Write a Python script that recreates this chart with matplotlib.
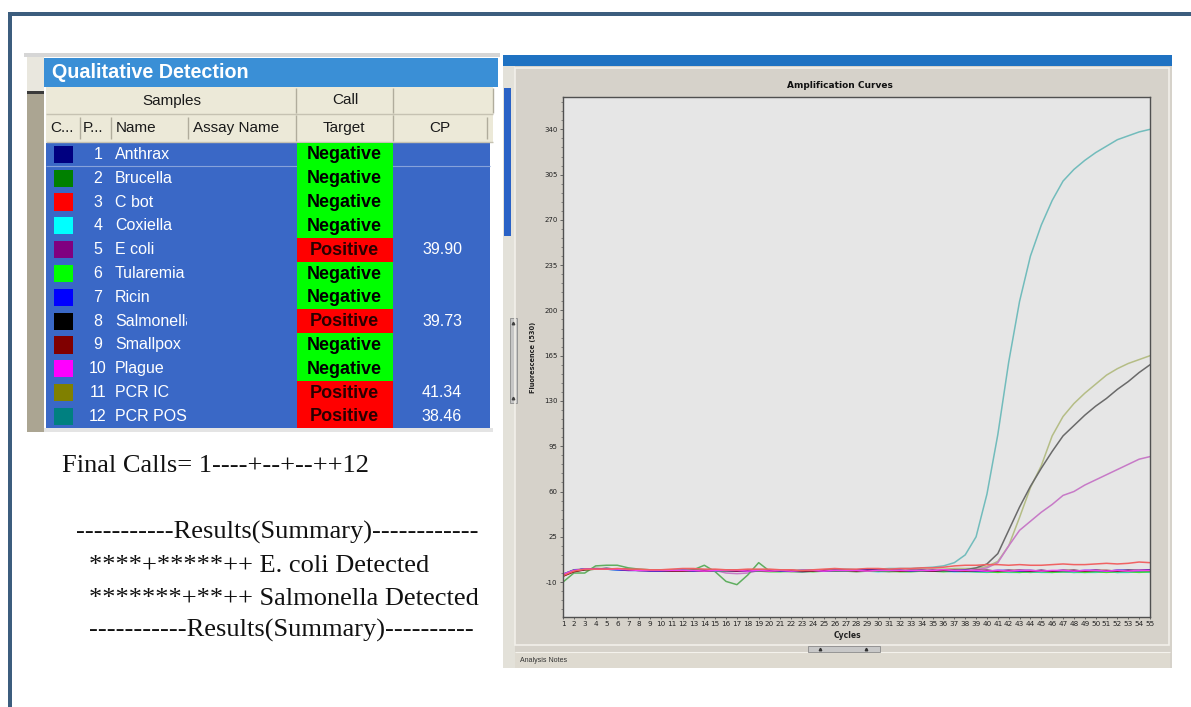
import matplotlib
matplotlib.use('Agg')
import matplotlib.pyplot as plt
from matplotlib.patches import Rectangle
from matplotlib.ticker import AutoMinorLocator

# ---------------- data ----------------
sample_ids = [1, 2, 3, 4, 5, 6, 7, 8, 9, 10, 11, 12]
sample_names = ['Anthrax', 'Brucella', 'C bot', 'Coxiella', 'E coli', 'Tularemia',
                'Ricin', 'Salmonella', 'Smallpox', 'Plague', 'PCR IC', 'PCR POS']
swatch_colors = ['#000080', '#008000', '#ff0000', '#00ffff', '#800080', '#00ff00',
                 '#0000ff', '#000000', '#800000', '#ff00ff', '#808000', '#008080']
line_colors = ['#1a1a86', '#5fae5f', '#f06262', '#3cd6e0', '#c77ac7', '#3ee03e',
               '#2424ee', '#6a6a6a', '#7a0a0a', '#f040f0', '#b5bd86', '#72bcbc']
calls = ['Negative', 'Negative', 'Negative', 'Negative', 'Positive', 'Negative',
         'Negative', 'Positive', 'Negative', 'Negative', 'Positive', 'Positive']
cp_values = ['', '', '', '', '39.90', '', '', '39.73', '', '', '41.34', '38.46']

cycles = list(range(1, 56))

fl_anthrax = [-4, -1, 0, 0, 0.5, 0, -0.5, -0.5, -1, -1.5, -1.5,
              -1, -1, -1, -1.5, -1, -1, -1.5, -1, -1.5, -1, -1.5,
              -2, -1.5, -1, -1.5, -1, -1, -0.5, -1, -1, -1, -1.5,
              -1.5, -1, -1.5, -1, -1, -1.5, -1, -1.5, -1.5, -1, -1,
              -1.5, -2, -1.5, -1, -1.5, -1, -1.5, -1, -1, -1.5, -1]
fl_brucella = [-10, -3, -3, 2.5, 3, 3, 1, 0, -0.5, -0.5, -1,
               -1, -0.5, 3, -2, -9.5, -12, -4.5, 5, -1.5, -1.5, -2,
               -2, -1.5, -1.5, -1, -1.5, -2, -1.5, -1.5, -2, -1.5, -1.5,
               -1, -1.5, -1.5, -1, -1.5, -1.5, -2, -2, -1.5, -2, -2.5,
               -2, -2, -2, -2.5, -2, -2, -2, -2.5, -2, -2, -2]
fl_cbot = [-5, -1.5, 0, 0, 0, 0.5, 0, 0, -0.5, -0.5, 0,
           0.5, 0.5, 0, 0, -0.5, -0.5, 0, 0, 0, -0.5, -0.5,
           -1, -0.5, 0, 0.5, 0, 0, 0.5, 0.5, 0, 0.5, 0.5,
           1, 1, 1.5, 2.5, 3, 3, 3.5, 3.5, 3, 3.5, 3,
           3, 3.5, 4, 3.5, 3.5, 4, 4.5, 4, 4.5, 5.5, 5]
fl_coxiella = [-4, -1, 0, 0, 0, -0.5, -0.5, -1, -1, -1, -1,
               -1, -1.5, -1, -1.5, -1.5, -1.5, -1, -1, -1.5, -1.5, -1.5,
               -1, -1.5, -1.5, -1, -1, -1.5, -1.5, -2, -1.5, -1.5, -1,
               -1, -1.5, -1.5, -2, -2, -2, -2.5, -2, -2.5, -2.5, -2,
               -2.5, -2.5, -2, -2.5, -2.5, -2.5, -2, -2.5, -2.5, -2, -2.5]
fl_ecoli = [-4.5, -1, 0, 0.5, 0, 0, -0.5, -1, -1, -1, -1.5,
            -1, -1, -0.5, -1, -3, -3.5, -3, -1, -1.5, -1.5, -1,
            -1.5, -1, -1, -1, -1.5, -1, -0.5, -1, -1, -1.5, -1.5,
            -1, -1, -1.5, -1, -1, -0.5, 1, 5, 18, 30, 37,
            44, 50, 57, 60, 65, 69, 73, 77, 81, 85, 87]
fl_tularemia = [-5, -1.5, -0.5, 0, 0, 0, -0.5, -0.5, -1, -1, -1,
                -1.5, -1, -1, -1, -1.5, -1, -1.5, -1.5, -2, -2, -1.5,
                -1.5, -2, -1.5, -1.5, -1, -1, -1.5, -1.5, -1.5, -2, -2,
                -1.5, -1.5, -2, -1.5, -1.5, -2, -2, -2.5, -2, -2.5, -2,
                -2, -2.5, -2, -2, -2.5, -2, -2.5, -2, -2, -2.5, -2]
fl_ricin = [-4.5, -1, 0, 0, 0, -0.5, -1, -1, -1.5, -1.5, -1,
            -1, -1.5, -1, -1, -1, -1.5, -1.5, -1, -1, -1.5, -1.5,
            -1, -1, -1.5, -1, -1, -0.5, -0.5, -1, -1, -1, -1.5,
            -1, -1.5, -1, -1.5, -1, -1.5, -1.5, -1, -1, -1.5, -1.5,
            -1, -1.5, -1, -1.5, -1, -1, -1.5, -1, -1, -1, -0.5]
fl_salmonella = [-4, -0.5, 0, 0, 0.5, 0, 0, -0.5, -1, -1, -1.5,
                 -1.5, -1, -1, -1, -1, -1, -1.5, -1, -1, -1.5, -1.5,
                 -1.5, -1, -1, -1.5, -0.5, -1, -1, -1.5, -1, -1.5, -1,
                 -1.5, -1, -1.5, -1, -0.5, 1, 4, 12, 30, 48, 64,
                 78, 91, 103, 111, 119, 126, 132, 139, 145, 152, 158]
fl_smallpox = [-5.5, -2, -0.5, 0, 0, 0, -0.5, -1, -1, -1, -1.5,
               -1.5, -1, -1.5, -1, -1, -1.5, -1, -1, -1.5, -1, -1,
               -1.5, -1.5, -1, -1, -1, -1.5, -1, -1, -1, -1.5, -1,
               -1, -1.5, -1, -1, -1.5, -1, -1, -1.5, -1, -1, -1.5,
               -1, -1.5, -1, -1, -1.5, -1, -1, -1.5, -1, -1, -1]
fl_plague = [-4, -1, 0, 0, 0, 0, -0.5, -1, -1, -1, -1,
             -1, -1, -1.5, -1, -1, -1, -1.5, -1, -1.5, -1, -1.5,
             -1, -1, -1.5, -1, -1, -1, -1.5, -1, -1, -1, -1,
             -1, -1, -0.5, -1, -1, -1, -1.5, -1, -1.5, -1, -1,
             -1.5, -1, -1, -1.5, -1, -1, -1.5, -1, -1.5, -1, -1]
fl_pcr_ic = [-4, -1, 0, 0.5, 0.5, 0, 0, -0.5, -1, -1, -1,
             -1, -1, -1, -0.5, -1, -1, -1, -1, -1.5, -1, -1.5,
             -1, -1, -1, -0.5, -1, -0.5, -0.5, -1, -0.5, -0.5, 0,
             0, 0, 0, 0.5, 0.5, 0.5, 2, 6, 18, 40, 63,
             80, 103, 118, 128, 136, 143, 150, 155, 159, 162, 165]
fl_pcr_pos = [-5, -1, 0, 0.5, 0, -0.5, 0, -0.5, -1, -1, -1.5,
              -1, -1, -0.5, -1, -1, -1.5, -1, -1, -1, -1.5, -1,
              -1, -1, -0.5, -0.5, 0, -0.5, 0, 0, 0.5, 0.5, 0.5,
              1, 1.5, 2.5, 5, 11, 25, 58, 104, 160, 207, 242,
              266, 285, 300, 309, 316, 322, 327, 332, 335, 338, 340]

fluorescence = [fl_anthrax, fl_brucella, fl_cbot, fl_coxiella, fl_ecoli, fl_tularemia,
                fl_ricin, fl_salmonella, fl_smallpox, fl_plague, fl_pcr_ic, fl_pcr_pos]

y_ticks = [-10, 25, 60, 95, 130, 165, 200, 235, 270, 305, 340]

summary_lines = ['Final Calls= 1----+--+--++12',
                 '-----------Results(Summary)------------',
                 '****+*****++ E. coli Detected',
                 '*******+**++ Salmonella Detected',
                 '-----------Results(Summary)----------']

# ---------------- figure ----------------
W, H = 1191, 707
fig = plt.figure(figsize=(W / 100, H / 100), dpi=100)
fig.patch.set_facecolor('white')
bg = fig.add_axes([0, 0, 1, 1])
bg.set_xlim(0, W)
bg.set_ylim(H, 0)
bg.axis('off')

UI = ['Liberation Sans', 'DejaVu Sans']


def rect(x0, y0, x1, y1, fc, ec='none', lw=0, z=1):
    bg.add_patch(Rectangle((x0, y0), x1 - x0, y1 - y0, facecolor=fc,
                           edgecolor=ec, linewidth=lw, zorder=z))


def vline(x, y0, y1, c='#b0ac9c', lw=1.0):
    bg.plot([x, x], [y0, y1], color=c, lw=lw, zorder=3, solid_capstyle='butt')


def hline(y, x0, x1, c='#b0ac9c', lw=1.0):
    bg.plot([x0, x1], [y, y], color=c, lw=lw, zorder=3, solid_capstyle='butt')


# outer frame
rect(8, 12, W, 16, '#3c5d7e')
rect(8, 12, 12, H, '#3c5d7e')

# ---- left table panel ----
rect(24, 53, 500, 57, '#d6d6d6')
rect(27, 57, 44, 432, '#aba592')
rect(27, 57, 44, 91, '#e9e7de')
rect(27, 91, 44, 93.5, '#3a3a3a')
rect(44, 58, 498, 86.5, '#3a8fd6')
bg.text(52, 72.5, 'Qualitative Detection', color='white', fontsize=14.2,
        fontweight='bold', va='center', ha='left', family=UI, zorder=4)

rect(46, 87, 493, 141.5, '#ece9d8')
hline(113.5, 46, 493, '#c6c2b2')
hline(141.5, 46, 493, '#c6c2b2')
for x in [296, 393]:
    vline(x, 88, 112.5)
vline(493, 88, 112.5)
for x in [79.5, 110.5, 188]:
    vline(x, 117, 139)
for x in [296, 393]:
    vline(x, 115, 140.5)
vline(487, 117, 139)

hdr = dict(fontsize=11, va='center', color='#1a1a1a', family=UI, zorder=4)
bg.text(171.5, 100.5, 'Samples', ha='center', **hdr)
bg.text(345, 100.5, 'Call', ha='center', **hdr)
bg.text(50.5, 128, 'C...', ha='left', **hdr)
bg.text(83, 128, 'P...', ha='left', **hdr)
bg.text(116, 128, 'Name', ha='left', **hdr)
bg.text(193, 128, 'Assay Name', ha='left', **hdr)
bg.text(344, 128, 'Target', ha='center', **hdr)
bg.text(440, 128, 'CP', ha='center', **hdr)

row_top, row_h = 142.5, 23.82
rect(46, row_top, 490, row_top + 12 * row_h, '#3a68c6')
rect(44, row_top + 12 * row_h, 493, row_top + 12 * row_h + 3.5, '#e4e4e4')
hline(row_top + row_h, 46, 490, '#86a2da', 0.8)

name_clip = Rectangle((110, row_top), 77, 12 * row_h, transform=bg.transData)
for i in range(len(sample_ids)):
    y0 = row_top + i * row_h
    yc = y0 + row_h / 2
    rect(53.5, yc - 8.6, 72.8, yc + 8.6, swatch_colors[i], z=3)
    bg.text(98, yc, str(sample_ids[i]), ha='center', va='center', color='white',
            fontsize=11.5, family=UI, zorder=4)
    t = bg.text(115, yc, sample_names[i], ha='left', va='center', color='white',
                fontsize=11.5, family=UI, zorder=4)
    t.set_clip_on(True)
    t.set_clip_path(name_clip)
    pos = calls[i] == 'Positive'
    rect(296.5, y0, 392.8, y0 + row_h, '#ff0000' if pos else '#00ff00', z=3)
    bg.text(344.6, yc + 0.5, calls[i], ha='center', va='center',
            color='#2a0000' if pos else '#000000', fontsize=13,
            fontweight='bold', family=UI, zorder=4)
    if cp_values[i]:
        bg.text(462, yc, cp_values[i], ha='right', va='center', color='white',
                fontsize=11.5, family=UI, zorder=4)

# ---- right chart panel ----
rect(503, 55, 1172, 66, '#1f72c2')
rect(503, 66, 1172, 668, '#d6d2ca')
rect(503, 66, 515, 668, '#e3e1d9')
rect(504, 88, 510.5, 236, '#2a62c6', z=2)
rect(510, 318, 516.5, 403, '#c6c6c6', ec='#8c8c8c', lw=0.6, z=2)
bg.plot([513.2, 513.2], [323, 398], '^', ms=1.8, color='#404040', zorder=3)
bg.add_patch(Rectangle((515, 68), 654, 577, facecolor='none',
                       edgecolor='#f2f0ea', linewidth=1.2, zorder=2))
rect(515, 652, 1170, 667.5, '#dedad0', z=2)
hline(652, 515, 1170, '#f4f2ec', 0.8)
bg.text(520, 660, 'Analysis Notes', fontsize=5, color='#333333', va='center',
        ha='left', family=UI, zorder=4)
rect(808, 645.5, 880, 652, '#c8c8c8', ec='#8a8a8a', lw=0.6, z=3)
bg.plot([820, 866], [648.8, 648.8], '^', ms=1.8, color='#303030', zorder=4)
bg.text(840, 86, 'Amplification Curves', fontsize=6.5, fontweight='bold',
        ha='center', va='center', color='#111111', family=['DejaVu Sans'], zorder=4)

# ---- summary text ----
serif = ['Liberation Serif', 'DejaVu Serif']
text_pos = [(61.7, 471.7), (76, 539), (89, 571.7), (89, 605), (89, 636.7)]
for (tx, ty), s in zip(text_pos, summary_lines):
    bg.text(tx, ty, s, fontsize=19, family=serif, ha='left', va='baseline',
            color='#111111', zorder=4)

# ---- amplification plot ----
L, R, T, B = 563, 1150, 97, 617
ax = fig.add_axes([L / W, (H - B) / H, (R - L) / W, (B - T) / H])
ax.set_facecolor('#e6e6e6')
order = [11, 10, 7, 4, 0, 1, 3, 5, 6, 8, 9, 2]
for i in order:
    ax.plot(cycles, fluorescence[i], color=line_colors[i], lw=1.1)
ax.set_xlim(1, 55)
ax.set_ylim(-37, 365)
ax.set_xticks(cycles)
ax.set_xticklabels([str(c) for c in cycles], fontsize=5.2, color='#222222')
ax.set_yticks(y_ticks)
ax.set_yticklabels([str(v) for v in y_ticks], fontsize=5, color='#222222')
ax.yaxis.set_minor_locator(AutoMinorLocator(5))
ax.tick_params(axis='both', which='major', length=2.5, width=0.6, color='#555555', pad=1.5)
ax.tick_params(axis='y', which='minor', length=1.4, width=0.5, color='#666666')
ax.tick_params(axis='x', which='major', length=1.5)
for s in ax.spines.values():
    s.set_color('#505050')
    s.set_linewidth(1.0)
ax.set_xlabel('Cycles', fontsize=5.5, fontweight='bold', color='#222222')
ax.xaxis.set_label_coords(0.485, -0.027)
ax.set_ylabel('Fluorescence (530)', fontsize=4.8, fontweight='bold', color='#222222')
ax.yaxis.set_label_coords(-0.046, 0.5)

fig.savefig('out.png', dpi=100)
